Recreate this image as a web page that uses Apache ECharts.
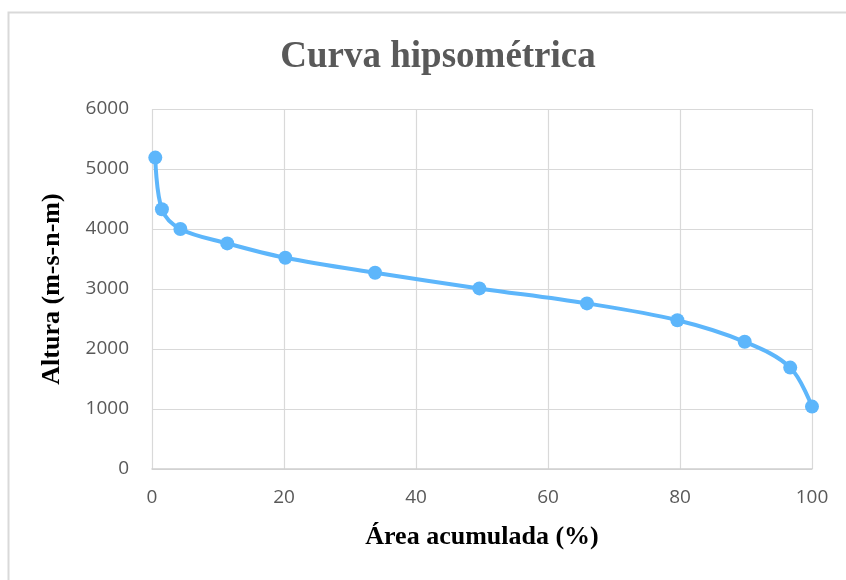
<!DOCTYPE html>
<html>
<head>
<meta charset="utf-8">
<script src="https://cdn.jsdelivr.net/npm/echarts@6/dist/echarts.min.js"></script>
<style>
  html, body { margin: 0; padding: 0; background: #fff; }
  #chart { width: 846px; height: 580px; }
</style>
</head>
<body>
<div id="chart"></div>
<script>
// Hypsometric curve: cumulative area (%) vs. elevation (m.s.n.m.)
const areaAcumulada = [0.5, 1.5, 4.3, 11.4, 20.2, 33.8, 49.6, 65.9, 79.6, 89.8, 96.7, 100];
const altura = [5190, 4330, 4000, 3760, 3520, 3270, 3010, 2760, 2480, 2120, 1690, 1040];

const points = areaAcumulada.map((x, i) => [x, altura[i]]);

const tickFont = { fontFamily: 'Open Sans', fontSize: 19, color: '#595959' };
const nameFont = { fontFamily: 'Liberation Serif', fontWeight: 'bold', fontSize: 26, color: '#000' };

const chart = echarts.init(document.getElementById('chart'), null, { renderer: 'canvas' });
chart.setOption({
  animation: false,
  backgroundColor: '#fff',
  graphic: [{
    type: 'rect',
    shape: { x: 8.5, y: 12.5, width: 1200, height: 1000 },
    style: { fill: 'none', stroke: '#d9d9d9', lineWidth: 2 },
    silent: true
  }],
  title: {
    text: 'Curva hipsométrica',
    left: 433,
    textAlign: 'center',
    top: 34,
    textStyle: { fontFamily: 'Liberation Serif', fontWeight: 'bold', fontSize: 37, color: '#595959' }
  },
  grid: { left: 152, right: 34, top: 109, bottom: 111, containLabel: false },
  xAxis: {
    type: 'value',
    min: 0, max: 100, interval: 20,
    name: 'Área acumulada (%)',
    nameLocation: 'middle',
    nameGap: 55,
    nameTextStyle: nameFont,
    axisLine: { show: true, lineStyle: { color: '#cfcfcf', width: 1.5 } },
    axisTick: { show: false },
    axisLabel: Object.assign({ margin: 19 }, tickFont),
    splitLine: { show: true, lineStyle: { color: '#d9d9d9', width: 1.2 } }
  },
  yAxis: {
    type: 'value',
    min: 0, max: 6000, interval: 1000,
    name: 'Altura (m-s-n-m)',
    nameLocation: 'middle',
    nameGap: 87,
    nameRotate: 90,
    nameTextStyle: nameFont,
    axisLine: { show: false },
    axisTick: { show: false },
    axisLabel: Object.assign({ margin: 23, formatter: v => String(v) }, tickFont),
    splitLine: { show: true, lineStyle: { color: '#d9d9d9', width: 1.2 } }
  },
  series: [{
    type: 'line',
    data: points,
    smooth: 0.35,
    symbol: 'circle',
    symbolSize: 14,
    lineStyle: { color: '#5DB6FB', width: 4 },
    itemStyle: { color: '#5DB6FB' }
  }]
});
</script>
</body>
</html>
